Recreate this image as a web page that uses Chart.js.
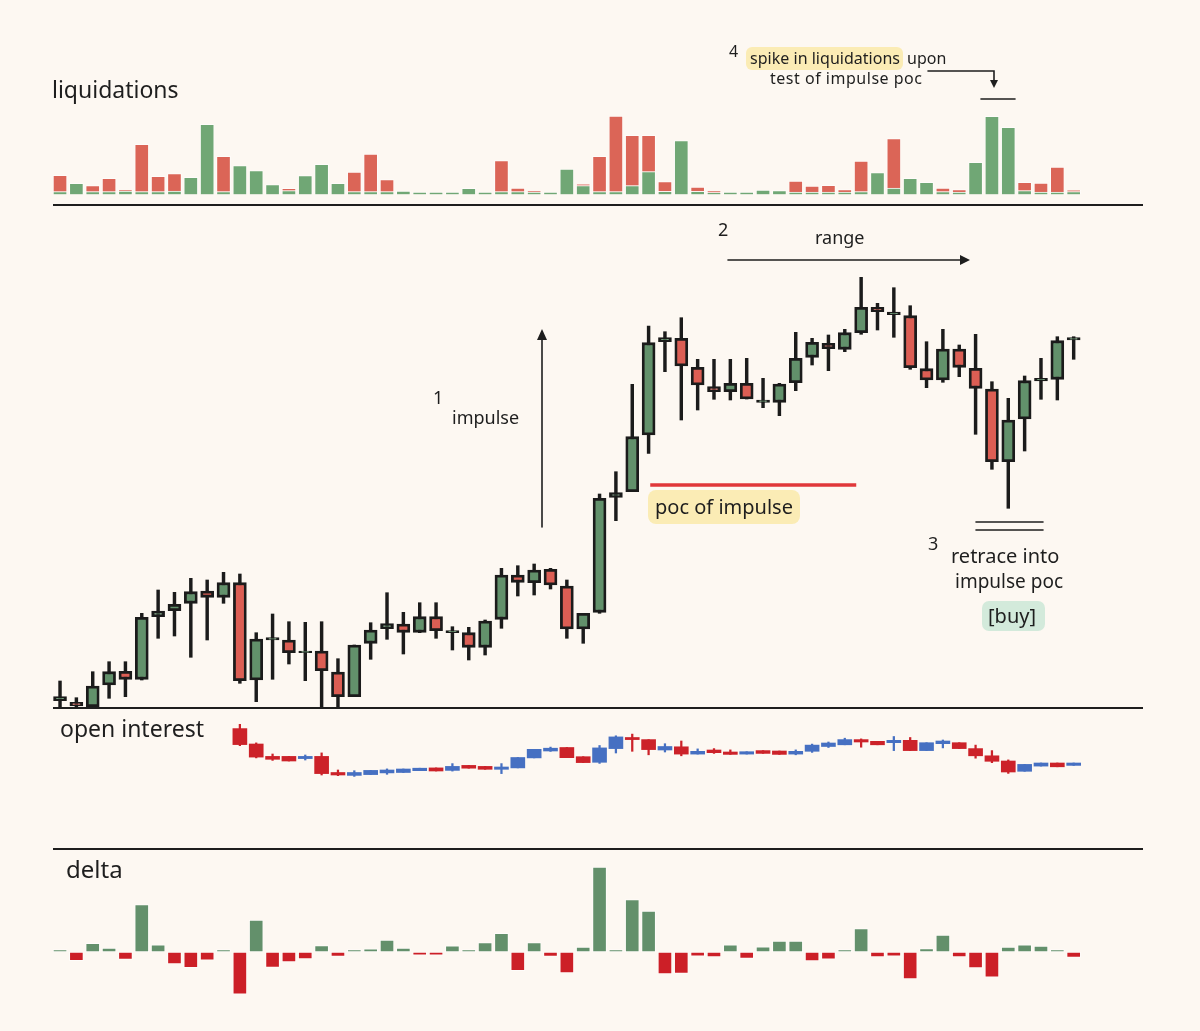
<!DOCTYPE html>
<html>
<head>
<meta charset="utf-8">
<title>liquidations / price / open interest / delta</title>
<script src="https://cdn.jsdelivr.net/npm/chart.js@4.4.1/dist/chart.umd.min.js"></script>
<style>
  html, body { margin: 0; padding: 0; background: #fdf8f2; }
  #page { position: relative; width: 1200px; height: 1031px; overflow: hidden; background: #fdf8f2; }
  .panel { position: absolute; left: 53px; width: 1090px; }
  .rule { position: absolute; left: 53px; width: 1090px; height: 2px; background: #1e1e1e; }
  #notes { position: absolute; left: 0; top: 0; pointer-events: none; }
  #notes text { font-family: "Noto Sans", sans-serif; fill: #1e1e1e; }
</style>
</head>
<body>
<div id="page">
  <div class="panel" style="top:100px;height:105px"><canvas id="liqChart"></canvas></div>
  <div class="panel" style="top:205px;height:503px"><canvas id="priceChart"></canvas></div>
  <div class="panel" style="top:708px;height:141px"><canvas id="oiChart"></canvas></div>
  <div class="panel" style="top:849px;height:182px"><canvas id="deltaChart"></canvas></div>
  <div class="rule" style="top:204px"></div>
  <div class="rule" style="top:707px"></div>
  <div class="rule" style="top:848px"></div>

  <svg id="notes" width="1200" height="1031">
    <rect x="746" y="47" width="157" height="23" rx="6" fill="#fbecb5"/>
    <rect x="648" y="490" width="152" height="34" rx="8" fill="#fbecb5"/>
    <rect x="982" y="601" width="63" height="30" rx="7" fill="#d3eadb"/>

    <text x="52" y="98" font-size="23">liquidations</text>
    <text x="729" y="57" font-size="16">4</text>
    <text x="750" y="64" font-size="16" textLength="150">spike in liquidations</text>
    <text x="907" y="64" font-size="16">upon</text>
    <text x="770" y="84" font-size="16" textLength="152">test of impulse poc</text>

    <text x="718" y="236" font-size="18">2</text>
    <text x="815" y="244" font-size="18">range</text>
    <text x="433" y="404" font-size="18">1</text>
    <text x="452" y="424" font-size="18">impulse</text>
    <text x="655" y="514" font-size="20">poc of impulse</text>
    <text x="928" y="550" font-size="18">3</text>
    <text x="951" y="563" font-size="20">retrace into</text>
    <text x="955" y="588" font-size="19">impulse poc</text>
    <text x="988" y="623" font-size="20">[buy]</text>
    <text x="60" y="737" font-size="23">open interest</text>
    <text x="66" y="878" font-size="24">delta</text>

    <g stroke="#1e1e1e" stroke-width="1.6" fill="none" stroke-linecap="round">
      <path d="M928 71 H994 V82"/>
      <path d="M981 99 H1015"/>
      <path d="M728 260 H962"/>
      <path d="M542 527 V338"/>
      <path d="M976 522 H1043 M976 530 H1043"/>
    </g>
    <g fill="#1e1e1e">
      <polygon points="990,80 998,80 994,88"/>
      <polygon points="960,255 970,260 960,265"/>
      <polygon points="537,340 542,329 547,340"/>
    </g>
  </svg>
</div>

<script>
// liquidations per bar (green part sits at the bottom, red stacked on top)
const shortLiq = [2.7, 11, 2.7, 2.7, 3.3, 2.7, 2.7, 3.3, 17, 70,
  2.7, 28.7, 23.7, 9.7, 3.7, 18.7, 30, 11, 2.7, 2.7,
  2.7, 3.3, 2.3, 2.3, 2.3, 6, 2.3, 2.7, 2.7, 2.3,
  2.3, 25.3, 8.7, 2.7, 2.7, 8.7, 22.7, 3, 53.7, 3,
  2, 2.3, 2.3, 4.3, 3.7, 2.3, 2.3, 2.3, 2.3, 2.7,
  21.7, 6.3, 16, 12, 2.7, 2.3, 32, 78, 67, 3.7,
  2.3, 2.3, 2.7];
const longLiq = [16.3, 0, 6, 13.3, 1, 47.3, 15.3, 17.4, 0, 0,
  35.3, 0, 0, 0, 2.3, 0, 0, 0, 19.6, 37.6,
  12, 0, 0, 0, 0, 0, 0, 31, 3.6, 1,
  0, 0, 1.3, 35.3, 75.6, 50.3, 36.3, 9.7, 0, 4.3,
  1.3, 0, 0, 0, 0, 11, 6, 6.7, 2.4, 30.6,
  0, 49.4, 0, 0, 3.6, 2.4, 0, 0, 0, 8.3,
  9, 25, 1.6];

// price candles
const priceOpen = [7.3, 5.7, 1.3, 23, 36.7, 28.7, 91.3, 97.3, 104.7, 117,
  110.7, 125.3, 28, 68, 68, 55.3, 57, 36, 11.3, 64.7,
  79.3, 84, 75.7, 91.3, 75.3, 75.3, 60.7, 88.7, 133, 125.3,
  138.7, 122, 79, 95.7, 210.7, 216.3, 273, 366.3, 369.7, 340.7,
  321.3, 316.3, 324.7, 305.7, 305.7, 325.3, 350.7, 364.7, 358.7, 375.3,
  400.7, 393.3, 392.3, 339.3, 328, 359, 339.7, 319, 246.3, 289,
  327, 328.7, 368];
const priceHigh = [27, 10.3, 36.3, 46.3, 46.3, 94.7, 118, 115.7, 129.7, 128,
  135.7, 134, 75.3, 94, 86.3, 85.7, 86.3, 49.3, 63, 85.3,
  115.3, 95.7, 105.3, 105.3, 81.3, 80.7, 88, 139.7, 142.3, 144,
  139.7, 128, 94.7, 214, 236.3, 323.7, 382, 376.3, 390.3, 348.7,
  348.7, 348.7, 349.7, 329.7, 324.7, 375.7, 369.7, 373, 378.7, 430.7,
  404.7, 420.3, 402.3, 366.3, 378.7, 363, 373.7, 326.3, 309.7, 332,
  349.7, 371.3, 371.3];
const priceLow = [1.3, 1.3, 1.3, 9.7, 11.3, 28, 69.7, 72, 50.7, 68,
  104.7, 24.7, 6.3, 28.7, 44, 27.3, 0.3, 0.3, 11.3, 48.7,
  68.7, 54, 75.3, 69.7, 58, 48, 53, 79.7, 112, 113,
  119, 69.7, 64.7, 94.7, 187.3, 216.3, 254.7, 336.3, 288, 298,
  308.7, 308, 309, 300.3, 292.3, 317.3, 343, 337.3, 356.3, 373.7,
  378, 370.7, 338.7, 320.3, 325.7, 331.3, 273.7, 238.7, 199.7, 257,
  308.7, 308, 348.7];
const priceClose = [11.3, 2, 22, 36.3, 28.7, 90.7, 97, 103.7, 116.3, 110.7,
  125.3, 27.3, 69, 70.3, 55.3, 57, 37.3, 11.3, 63, 78,
  84.3, 75.7, 91.3, 77.3, 77.3, 60.7, 87, 133, 125.7, 138,
  123, 79, 94.7, 209.7, 215.3, 271.3, 365.3, 370.3, 342, 323,
  316.3, 324.7, 309, 308, 324, 349.7, 365.7, 359.3, 375.3, 400.7,
  396.3, 396, 340.3, 328, 359, 340.7, 319.7, 246.3, 288, 327.3,
  329.7, 367.3, 370.3];

// point of control of the impulse leg
const pocLevel = 223;
const pocFrom = 36.1;
const pocTo = 48.7;

// open interest candles (no data before bar 11)
const oiOpen = [null, null, null, null, null, null, null, null, null, null,
  null, 120.4, 105, 92.6, 92.6, 90.4, 92.6, 76.5, 73.6, 74.4,
  76.1, 76.5, 78.3, 81.1, 78.6, 83.6, 82.6, 79.7, 81.1, 91.1,
  98, 101.5, 92.3, 86.7, 100.4, 111.5, 109.4, 99, 102.2, 94.9,
  99, 97, 94.9, 98.4, 98, 94.9, 97.7, 102.5, 104.2, 109.4,
  107.7, 106.3, 108.7, 98.4, 105.3, 106.3, 100.4, 93.2, 88, 77.7,
  82.9, 86, 83.6];
const oiHigh = [null, null, null, null, null, null, null, null, null, null,
  null, 124.7, 106.1, 95, 92.6, 94, 96.1, 79, 78.3, 78.6,
  80.1, 80, 80.8, 81.1, 85.4, 83.6, 82.6, 85.4, 91.5, 99.7,
  101.9, 101.5, 92.3, 103.5, 113.2, 114.9, 109.4, 105.3, 108, 100.1,
  100.4, 99.1, 97.3, 98.4, 98, 99.1, 104.9, 107, 110.8, 110.1,
  107.7, 112.5, 111.5, 106.3, 109, 106.3, 103.9, 98.4, 89.1, 84.6,
  86, 86, 86];
const oiLow = [null, null, null, null, null, null, null, null, null, null,
  null, 103.3, 91.1, 88.6, 88, 89, 74, 73.3, 72.6, 74.4,
  74.7, 76.5, 78.3, 78, 77.9, 80.8, 79.7, 75.4, 81.1, 91.1,
  97.6, 91.3, 86.4, 85.6, 96, 97.7, 94.2, 97, 93.2, 94.9,
  95.6, 94.6, 94.9, 95.6, 94.6, 94.2, 96.6, 101.5, 104.2, 101.8,
  104.2, 98.4, 98.4, 98.4, 101.1, 100.4, 90.8, 86.3, 75.6, 77.7,
  82.9, 82.2, 83.6];
const oiClose = [null, null, null, null, null, null, null, null, null, null,
  null, 104.4, 91.9, 89.7, 88, 92.6, 75.4, 74, 76.5, 78.6,
  79, 80, 80.8, 78, 82.6, 80.8, 79.7, 82, 91.5, 99.7,
  100.8, 91.3, 86.4, 101.1, 112.1, 109.4, 99.4, 102.5, 94.9, 97.7,
  96.3, 94.6, 97.3, 95.6, 94.6, 97.7, 103.9, 106, 109.4, 107,
  104.2, 108.7, 98.4, 106.3, 108, 100.4, 93.2, 87.7, 77, 84.6,
  86, 82.2, 86];

// volume delta per bar
const delta = [2.5, -8.6, 8.6, 3.9, -7.5, 47.5, 7.1, -11.8, -15.7, -8.2,
  2.5, -42.1, 31.8, -15.4, -10, -6.8, 6.4, -4.3, 2.5, 3.2,
  11.8, 3.9, -3.2, -3.2, 6.1, 2.5, 9.3, 18.6, -18.6, 9.3,
  -4.3, -21, 4.9, 85, 2.4, 52.4, 41, -22, -21.4, -4.1,
  -4.8, 7.2, -6.5, 5.2, 11, 11, -9, -7.2, 2.4, 23.4,
  -4.8, -4.1, -26.9, 3.4, 16.9, -4.8, -15.8, -25.1, 4.8, 7.2,
  5.9, 2.4, -5.5];

const ink = "#1b1b1b";
const idx = priceOpen.map((_, i) => i);

function panelOptions(yMin, yMax, stacked) {
  return {
    responsive: true,
    maintainAspectRatio: false,
    animation: false,
    layout: { padding: 0 },
    plugins: { legend: { display: false }, tooltip: { enabled: false } },
    scales: {
      x: { type: "linear", min: -0.43, max: 66.24, display: false, offset: false, stacked: stacked },
      y: { min: yMin, max: yMax, display: false, stacked: stacked },
    },
  };
}

function candleData(open, high, low, close) {
  const points = idx.filter((i) => open[i] !== null);
  return {
    bodies: points.map((i) => ({ x: i, y: [open[i], close[i]] })),
    wicks: points.map((i) => ({ x: i, y: [low[i], high[i]] })),
    up: points.map((i) => close[i] >= open[i]),
  };
}

// liquidations
new Chart(document.getElementById("liqChart"), {
  type: "bar",
  data: {
    datasets: [
      {
        data: idx.map((i) => ({ x: i, y: shortLiq[i] })),
        backgroundColor: "#70a775",
        borderColor: "rgba(255,255,255,0.6)",
        borderWidth: 1,
        barThickness: 14,
        stack: "liq",
      },
      {
        data: idx.map((i) => ({ x: i, y: longLiq[i] })),
        backgroundColor: "#db6557",
        borderColor: "rgba(255,255,255,0.6)",
        borderWidth: 1,
        barThickness: 14,
        stack: "liq",
      },
    ],
  },
  options: panelOptions(-10.7, 94.3, true),
});

// price
const price = candleData(priceOpen, priceHigh, priceLow, priceClose);
new Chart(document.getElementById("priceChart"), {
  type: "bar",
  data: {
    datasets: [
      {
        data: price.bodies,
        backgroundColor: price.up.map((u) => (u ? "#62916b" : "#dc5e54")),
        borderColor: ink,
        borderWidth: 2.8,
        borderSkipped: false,
        barThickness: 13,
        grouped: false,
        order: 1,
      },
      {
        data: price.wicks,
        backgroundColor: ink,
        borderWidth: 0,
        barThickness: 2.8,
        grouped: false,
        order: 2,
      },
      {
        type: "line",
        data: [{ x: pocFrom, y: pocLevel }, { x: pocTo, y: pocLevel }],
        borderColor: "#e0383a",
        borderWidth: 3.5,
        pointRadius: 0,
        order: 0,
      },
    ],
  },
  options: panelOptions(0, 503, false),
});

// open interest
const oi = candleData(oiOpen, oiHigh, oiLow, oiClose);
const oiColors = oi.up.map((u) => (u ? "#4670c2" : "#cc2229"));
new Chart(document.getElementById("oiChart"), {
  type: "bar",
  data: {
    datasets: [
      {
        data: oi.bodies,
        backgroundColor: oiColors,
        borderWidth: 0,
        barThickness: 14,
        grouped: false,
        order: 1,
      },
      {
        data: oi.wicks,
        backgroundColor: oiColors,
        borderWidth: 0,
        barThickness: 1.6,
        grouped: false,
        order: 2,
      },
    ],
  },
  options: panelOptions(0, 141, false),
});

// delta
new Chart(document.getElementById("deltaChart"), {
  type: "bar",
  data: {
    datasets: [
      {
        data: idx.map((i) => ({ x: i, y: delta[i] })),
        backgroundColor: delta.map((d) => (d >= 0 ? "#63906b" : "#cc1f27")),
        borderColor: "rgba(255,255,255,0.6)",
        borderWidth: 1,
        borderSkipped: false,
        barThickness: 14,
      },
    ],
  },
  options: panelOptions(-79, 103, false),
});
</script>
</body>
</html>
